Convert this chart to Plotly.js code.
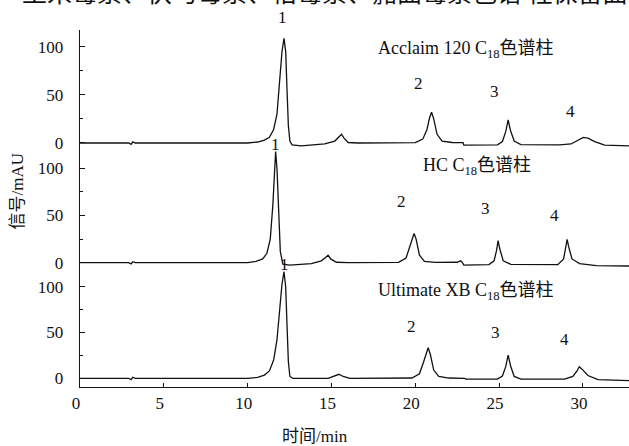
<!DOCTYPE html>
<html>
<head>
<meta charset="utf-8">
<script src="https://cdn.plot.ly/plotly-3.0.1.min.js"></script>
<style>html,body{margin:0;padding:0;background:#fff;overflow:hidden}#chart{width:629px;height:446px}</style>
</head>
<body>
<div id="chart"></div>
<script>
// Acclaim 120 C18 column (top trace)
const timeAcclaim = [0, 2.9, 3.05, 3.15, 3.3, 10.0, 10.6, 11.0, 11.3, 11.55, 11.75, 11.9, 12.05, 12.17, 12.27, 12.35, 12.43, 12.52, 12.65, 13.2, 14.6, 15.2, 15.45, 15.6, 15.75, 16.0, 16.6, 20.0, 20.45, 20.7, 20.85, 20.97, 21.1, 21.3, 21.6, 22.2, 22.85, 22.9, 24.9, 25.2, 25.4, 25.54, 25.68, 25.9, 26.3, 28.6, 29.3, 29.7, 30.02, 30.3, 30.7, 31.3, 32.75];
const signalAcclaim = [0, 0, -1.5, 1.2, 0, 0, 1, 3, 6, 14, 30, 60, 95, 108.7, 95, 55, 18, 2, -2, -3, -1, 2, 6, 9, 5, 0.5, 0, 0.3, 4, 14, 26, 31.9, 25, 9, 2, 0.5, 0.3, -2.3, -2, 1.5, 12, 23.9, 13, 2, -1.7, -2, -1, 3, 5.9, 5, 1.5, -2.3, -3];

// HC C18 column (middle trace)
const timeHC = [0, 2.9, 3.05, 3.15, 3.3, 10.0, 10.5, 10.9, 11.15, 11.35, 11.5, 11.6, 11.67, 11.75, 11.85, 11.95, 12.1, 12.5, 13.8, 14.4, 14.65, 14.8, 14.95, 15.3, 16.0, 19.0, 19.45, 19.7, 19.85, 19.93, 20.05, 20.25, 20.55, 21.2, 22.5, 22.7, 22.8, 22.9, 24.4, 24.7, 24.85, 24.94, 25.05, 25.25, 25.7, 28.5, 28.85, 28.98, 29.06, 29.15, 29.35, 29.8, 30.8, 32.75];
const signalHC = [0, 0, -1.3, 1, 0, 0, 1.5, 4, 10, 25, 60, 100, 117.6, 100, 55, 12, -1.5, -2.5, -1, 2, 5.5, 8, 4, 0.5, 0, 0.3, 5, 18, 28, 31, 25, 8, 1.5, 0.3, 0.5, 2, 0.5, -2.5, -2, 2, 13, 23.3, 14, 2, -1.8, -2, 4, 18, 24.8, 17, 4, -1, -3, -3.5];

// Ultimate XB C18 column (bottom trace)
const timeXB = [0, 2.9, 3.05, 3.15, 3.3, 10.0, 10.6, 11.0, 11.3, 11.55, 11.75, 11.9, 12.05, 12.17, 12.27, 12.35, 12.43, 12.52, 12.7, 14.8, 15.2, 15.45, 15.7, 16.1, 19.8, 20.25, 20.5, 20.67, 20.77, 20.9, 21.1, 21.4, 22.0, 22.95, 23.0, 24.9, 25.2, 25.4, 25.54, 25.68, 25.9, 26.3, 28.9, 29.4, 29.65, 29.78, 29.95, 30.3, 30.9, 32.75];
const signalXB = [0, 0, -1.5, 1.2, 0, 0, 1, 3.5, 8, 20, 42, 72, 103, 116.4, 100, 58, 18, 2, 0, 0, 2.5, 4.4, 2, 0, 0.3, 5, 18, 29, 33.4, 26, 9, 2, 0.3, 0, -1, -0.8, 2.5, 13, 25.4, 14, 2, -1, -1, 2, 8, 12.7, 10, 3, -1.5, -2.6];

const columnNames = ['Acclaim 120 C<sub>18</sub>色谱柱', 'HC C<sub>18</sub>色谱柱', 'Ultimate XB C<sub>18</sub>色谱柱'];
const peakNames = ['1', '2', '3', '4'];
const xTitle = '时间/min';
const yTitle = '信号/mAU';
const captionText = '玉米霉素、伏马毒素、桔霉素、赭曲霉素色谱 柱保留曲线';

const FONT = 'Liberation Serif, Noto Sans CJK SC, serif';
const lineStyle = {color: '#111', width: 1.3};

const traces = [
  {x: timeAcclaim, y: signalAcclaim, xaxis: 'x', yaxis: 'y', type: 'scatter', mode: 'lines', line: lineStyle, hoverinfo: 'skip'},
  {x: timeHC, y: signalHC, xaxis: 'x', yaxis: 'y2', type: 'scatter', mode: 'lines', line: lineStyle, hoverinfo: 'skip'},
  {x: timeXB, y: signalXB, xaxis: 'x', yaxis: 'y3', type: 'scatter', mode: 'lines', line: lineStyle, hoverinfo: 'skip'}
];

function yAx(domain, range) {
  return {
    domain: domain, range: range, anchor: 'x',
    showline: true, linecolor: '#111', linewidth: 1.3,
    ticks: 'inside', ticklen: 5, tickcolor: '#111', tickwidth: 1,
    dtick: 50, tick0: 0,
    minor: {dtick: 25, ticks: 'inside', ticklen: 3, tickcolor: '#111'},
    showgrid: false, zeroline: false,
    tickfont: {family: FONT, size: 17, color: '#111'},
    ticklabelstandoff: 12
  };
}

// label positions: [x in data minutes, y in paper]
const peakLabelPos = [
  [[12.09, 1.034], [20.17, 0.851], [24.70, 0.827], [29.28, 0.771]],
  [[11.67, 0.678], [19.18, 0.519], [24.21, 0.501], [28.33, 0.479]],
  [[12.21, 0.342], [19.77, 0.170], [24.81, 0.153], [28.92, 0.134]]
];
const columnLabelPos = [[23.01, 0.944], [23.67, 0.617], [23.01, 0.268]];

const annotations = [];
peakLabelPos.forEach((set, i) => {
  set.forEach((p, j) => {
    annotations.push({xref: 'x', yref: 'paper', x: p[0], y: p[1], text: peakNames[j], showarrow: false,
      xanchor: 'center', yanchor: 'middle', font: {family: FONT, size: 17, color: '#111'}});
  });
  annotations.push({xref: 'x', yref: 'paper', x: columnLabelPos[i][0], y: columnLabelPos[i][1], text: columnNames[i],
    showarrow: false, xanchor: 'center', yanchor: 'middle', font: {family: FONT, size: 18, color: '#111'}});
});
annotations.push({xref: 'paper', yref: 'paper', x: 0.4275, y: -0.138, text: xTitle, showarrow: false,
  xanchor: 'center', yanchor: 'middle', font: {family: FONT, size: 17, color: '#111'}});
annotations.push({xref: 'paper', yref: 'paper', x: -0.114, y: 0.549, text: yTitle, showarrow: false, textangle: -90,
  xanchor: 'center', yanchor: 'middle', font: {family: FONT, size: 17, color: '#111'}});
annotations.push({xref: 'paper', yref: 'paper', x: -0.11, y: 1.108, text: captionText, showarrow: false,
  xanchor: 'left', yanchor: 'middle', font: {family: 'Noto Sans CJK SC, sans-serif', size: 25, color: '#111'}});

const layout = {
  width: 629, height: 446,
  margin: {l: 80, r: 0, t: 30, b: 59},
  paper_bgcolor: '#fff', plot_bgcolor: 'rgba(0,0,0,0)',
  showlegend: false,
  xaxis: {
    range: [0, 32.75], anchor: 'y3', dtick: 5, tick0: 0,
    showline: true, linecolor: '#111', linewidth: 1.3,
    ticks: 'inside', ticklen: 4, tickcolor: '#111',
    showgrid: false, zeroline: false,
    ticklabelshift: -4,
    tickfont: {family: FONT, size: 17, color: '#111'}
  },
  yaxis: yAx([0.6639, 1], [-7.27, 117.34]),
  yaxis2: yAx([0.3277, 0.678], [-7.73, 124.7]),
  yaxis3: yAx([0, 0.3417], [-9.5, 123.7]),
  annotations: annotations
};

Plotly.newPlot('chart', traces, layout, {displayModeBar: false, staticPlot: true});
</script>
</body>
</html>
